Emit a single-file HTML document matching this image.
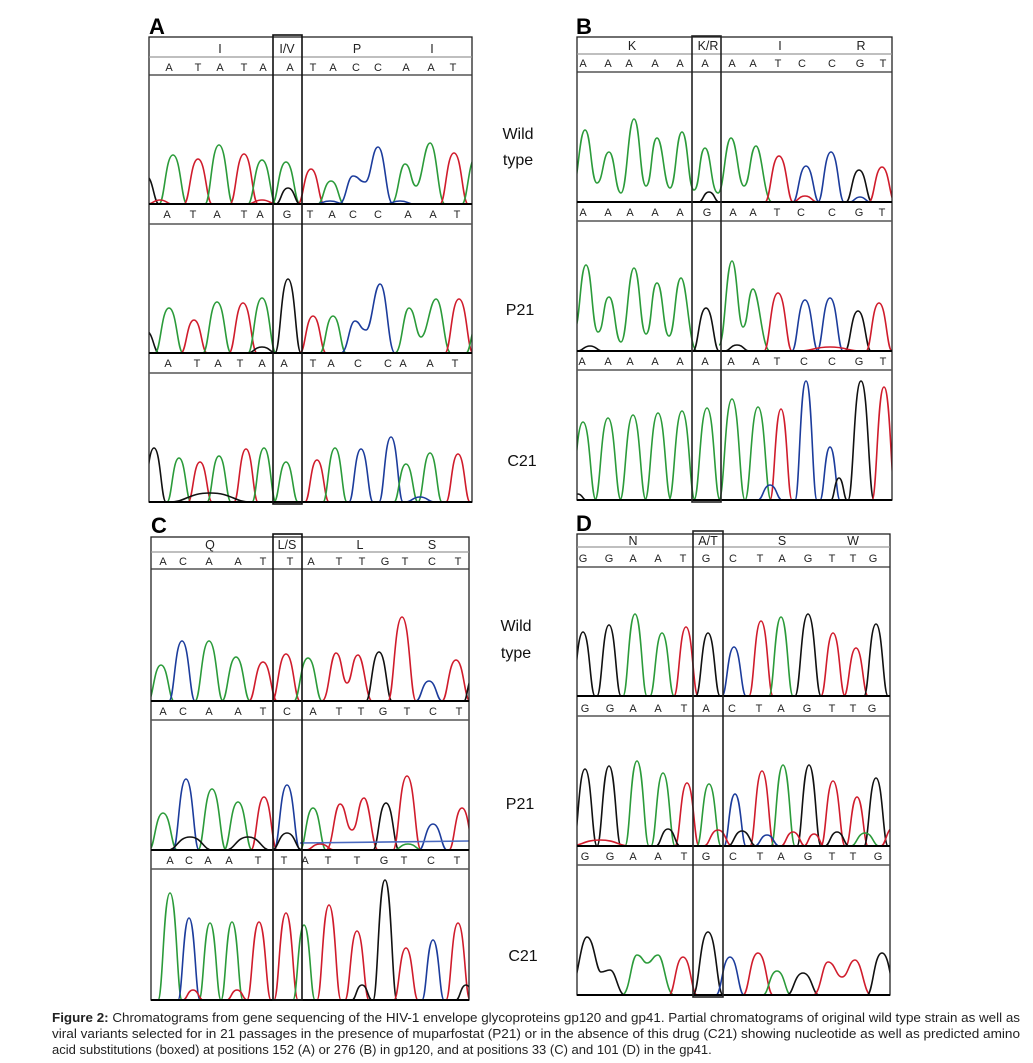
<!DOCTYPE html>
<html>
<head>
<meta charset="utf-8">
<style>
html,body{margin:0;padding:0;background:#fff;}
svg{display:block;}
.g{stroke:#2b9b3a;}
.r{stroke:#d01c2c;}
.b{stroke:#1c3c9c;}
.k{stroke:#111;}
.tr use,.tr path{stroke-width:1.6;fill:none;}
.nt{font-family:"Liberation Sans",Arial,sans-serif;font-size:11px;fill:#222;text-anchor:middle;}
.aa{font-family:"Liberation Sans",Arial,sans-serif;font-size:12.5px;fill:#222;text-anchor:middle;}
.lbl{font-family:"Liberation Sans",Arial,sans-serif;font-size:16px;fill:#111;text-anchor:middle;}
.pl{font-family:"Liberation Sans",Arial,sans-serif;font-size:22px;font-weight:bold;fill:#000;}
.cap{font-family:"Liberation Sans",Arial,sans-serif;font-size:13px;fill:#222;}
</style>
</head>
<body>
<svg width="1033" height="1063" viewBox="0 0 1033 1063" xmlns="http://www.w3.org/2000/svg">
<defs>
<path id="p" d="M-1,0 C-0.6,0 -0.55,-1 0,-1 C0.55,-1 0.6,0 1,0" fill="none" vector-effect="non-scaling-stroke"/>
<clipPath id="cA"><rect x="149" y="30" width="323" height="480"/></clipPath>
<clipPath id="cB"><rect x="577" y="30" width="315" height="480"/></clipPath>
<clipPath id="cC"><rect x="151" y="530" width="318" height="480"/></clipPath>
<clipPath id="cD"><rect x="577" y="525" width="313" height="480"/></clipPath>
</defs>
<rect width="1033" height="1063" fill="#fff"/>

<!-- Panel letters -->
<text class="pl" x="149" y="34">A</text>
<text class="pl" x="576" y="34">B</text>
<text class="pl" x="151" y="533">C</text>
<text class="pl" x="576" y="531">D</text>

<!-- Middle labels -->
<text class="lbl" x="518" y="139">Wild</text>
<text class="lbl" x="518" y="165">type</text>
<text class="lbl" x="520" y="315">P21</text>
<text class="lbl" x="522" y="466">C21</text>
<text class="lbl" x="516" y="631">Wild</text>
<text class="lbl" x="516" y="658">type</text>
<text class="lbl" x="520" y="809">P21</text>
<text class="lbl" x="523" y="961">C21</text>

<!-- ================= PANEL A ================= -->
<g class="tr" clip-path="url(#cA)">
<!-- WT b=204 -->
<use href="#p" class="k" transform="translate(146 204) scale(13 28)"/>
<use href="#p" class="g" transform="translate(173 204) scale(14 49)"/>
<use href="#p" class="r" transform="translate(198 204) scale(14 45)"/>
<use href="#p" class="g" transform="translate(219 204) scale(14 59)"/>
<use href="#p" class="r" transform="translate(244 204) scale(14 50)"/>
<use href="#p" class="g" transform="translate(262 204) scale(14 44)"/>
<use href="#p" class="g" transform="translate(286 204) scale(14 42)"/>
<use href="#p" class="k" transform="translate(288 204) scale(12 16)"/>
<use href="#p" class="r" transform="translate(311 204) scale(13 35)"/>
<use href="#p" class="g" transform="translate(331 204) scale(13 23)"/>
<path class="b" d="M339,204 C346,204 347,176 353,176 C359,176 359,182 365,182 C371,182 372,147 378,147 C385,147 386,204 393,204"/>
<path class="g" d="M391,204 C398,204 399,164 405,164 C411,164 411,186 416,186 C422,186 424,143 430,143 C437,143 438,204 445,204"/>
<use href="#p" class="r" transform="translate(454 204) scale(14 51)"/>
<use href="#p" class="g" transform="translate(476 204) scale(14 47)"/>
<use href="#p" class="r" transform="translate(160 204) scale(12 4)"/>
<use href="#p" class="r" transform="translate(262 204) scale(14 4)"/>
<use href="#p" class="b" transform="translate(330 204) scale(14 3)"/>
<use href="#p" class="b" transform="translate(400 204) scale(14 3)"/>
<!-- P21 b=353 -->
<use href="#p" class="k" transform="translate(146 353) scale(13 22)"/>
<use href="#p" class="g" transform="translate(169 353) scale(14 45)"/>
<use href="#p" class="r" transform="translate(194 353) scale(13 33)"/>
<use href="#p" class="g" transform="translate(217 353) scale(14 51)"/>
<use href="#p" class="r" transform="translate(243 353) scale(14 50)"/>
<use href="#p" class="g" transform="translate(262 353) scale(14 55)"/>
<use href="#p" class="k" transform="translate(288 353) scale(13 74)"/>
<use href="#p" class="r" transform="translate(313 353) scale(13 37)"/>
<use href="#p" class="g" transform="translate(333 353) scale(13 37)"/>
<path class="b" d="M341,353 C348,353 349,321 355,321 C360,321 360,330 366,330 C372,330 374,284 380,284 C387,284 388,353 395,353"/>
<path class="g" d="M395,353 C402,353 403,308 409,308 C415,308 416,337 421,337 C427,337 430,299 436,299 C443,299 444,353 451,353"/>
<use href="#p" class="r" transform="translate(459 353) scale(14 54)"/>
<use href="#p" class="g" transform="translate(478 353) scale(12 30)"/>
<use href="#p" class="k" transform="translate(262 353) scale(14 6)"/>
<!-- C21 b=502 -->
<use href="#p" class="k" transform="translate(154 502) scale(12 54)"/>
<use href="#p" class="g" transform="translate(179 502) scale(12 44)"/>
<use href="#p" class="r" transform="translate(200 502) scale(12 40)"/>
<use href="#p" class="g" transform="translate(219 502) scale(12 46)"/>
<use href="#p" class="r" transform="translate(246 502) scale(12 53)"/>
<use href="#p" class="g" transform="translate(264 502) scale(12 54)"/>
<use href="#p" class="g" transform="translate(286 502) scale(12 40)"/>
<use href="#p" class="r" transform="translate(317 502) scale(12 42)"/>
<use href="#p" class="g" transform="translate(335 502) scale(12 54)"/>
<use href="#p" class="b" transform="translate(361 502) scale(12 53)"/>
<use href="#p" class="b" transform="translate(391 502) scale(12 65)"/>
<use href="#p" class="g" transform="translate(406 502) scale(12 38)"/>
<use href="#p" class="g" transform="translate(430 502) scale(12 49)"/>
<use href="#p" class="r" transform="translate(458 502) scale(12 48)"/>
<use href="#p" class="k" transform="translate(210 502) scale(40 9)"/>
<use href="#p" class="b" transform="translate(420 502) scale(14 5)"/>
</g>
<g fill="none">
<rect x="149" y="37" width="323" height="465" stroke="#222" stroke-width="1.3"/>
<line x1="149" y1="57" x2="472" y2="57" stroke="#999" stroke-width="1.2"/>
<line x1="149" y1="75" x2="472" y2="75" stroke="#333" stroke-width="1.3"/>
<line x1="149" y1="204" x2="472" y2="204" stroke="#000" stroke-width="2"/>
<line x1="149" y1="224" x2="472" y2="224" stroke="#555" stroke-width="1.5"/>
<line x1="149" y1="353" x2="472" y2="353" stroke="#000" stroke-width="2"/>
<line x1="149" y1="373" x2="472" y2="373" stroke="#555" stroke-width="1.5"/>
<line x1="149" y1="502" x2="472" y2="502" stroke="#000" stroke-width="2"/>
<rect x="273" y="35" width="29" height="469" stroke="#111" stroke-width="1.6"/>
</g>
<text class="aa" x="220" y="53">I</text><text class="aa" x="287" y="53">I/V</text><text class="aa" x="357" y="53">P</text><text class="aa" x="432" y="53">I</text>
<g class="nt">
<text x="169" y="71">A</text><text x="198" y="71">T</text><text x="220" y="71">A</text><text x="244" y="71">T</text><text x="263" y="71">A</text><text x="290" y="71">A</text><text x="313" y="71">T</text><text x="333" y="71">A</text><text x="356" y="71">C</text><text x="378" y="71">C</text><text x="406" y="71">A</text><text x="431" y="71">A</text><text x="453" y="71">T</text>
<text x="167" y="218">A</text><text x="193" y="218">T</text><text x="217" y="218">A</text><text x="244" y="218">T</text><text x="260" y="218">A</text><text x="287" y="218">G</text><text x="310" y="218">T</text><text x="332" y="218">A</text><text x="353" y="218">C</text><text x="378" y="218">C</text><text x="408" y="218">A</text><text x="433" y="218">A</text><text x="457" y="218">T</text>
<text x="168" y="367">A</text><text x="197" y="367">T</text><text x="218" y="367">A</text><text x="240" y="367">T</text><text x="262" y="367">A</text><text x="284" y="367">A</text><text x="313" y="367">T</text><text x="331" y="367">A</text><text x="358" y="367">C</text><text x="388" y="367">C</text><text x="403" y="367">A</text><text x="430" y="367">A</text><text x="455" y="367">T</text>
</g>

<!-- ================= PANEL B ================= -->
<g class="tr" clip-path="url(#cB)">
<!-- WT b=202 -->
<path class="g" d="M572,190 C578,190 579,130 585,130 C591,130 591,183 597,183 C603,183 603,152 609,152 C615,152 615,193 621,193 C627,193 628,119 634,119 C640,119 640,186 646,186 C652,186 651,138 657,138 C663,138 664,188 670,188 C676,188 676,132 682,132 C688,132 688,190 694,190 C700,190 699,148 705,148 C711,148 711,193 718,193 C724,193 725,138 731,138 C737,138 738,186 744,186 C750,186 750,146 756,146 C762,146 764,202 772,202"/>
<use href="#p" class="k" transform="translate(709 202) scale(10 10)"/>
<use href="#p" class="r" transform="translate(779 202) scale(14 46)"/>
<use href="#p" class="b" transform="translate(806 202) scale(13 36)"/>
<use href="#p" class="b" transform="translate(831 202) scale(13 50)"/>
<use href="#p" class="k" transform="translate(859 202) scale(13 32)"/>
<use href="#p" class="r" transform="translate(882 202) scale(13 35)"/>
<use href="#p" class="r" transform="translate(805 202) scale(12 6)"/>
<use href="#p" class="b" transform="translate(860 202) scale(10 5)"/>
<!-- P21 b=351 -->
<path class="g" d="M574,330 C580,330 580,265 586,265 C592,265 592,332 598,332 C604,332 603,297 609,297 C615,297 615,342 621,342 C627,342 628,268 634,268 C640,268 640,334 646,334 C652,334 651,283 657,283 C663,283 663,336 669,336 C675,336 675,278 681,278 C687,278 689,351 697,351"/>
<path class="g" d="M719,345 C725,345 726,261 732,261 C737,261 738,327 743,327 C748,327 748,289 753,289 C759,289 762,351 770,351"/>
<use href="#p" class="k" transform="translate(706 351) scale(13 43)"/>
<use href="#p" class="r" transform="translate(778 351) scale(14 58)"/>
<use href="#p" class="b" transform="translate(805 351) scale(13 51)"/>
<use href="#p" class="b" transform="translate(830 351) scale(13 53)"/>
<use href="#p" class="k" transform="translate(858 351) scale(13 40)"/>
<use href="#p" class="r" transform="translate(879 351) scale(13 48)"/>
<use href="#p" class="k" transform="translate(590 351) scale(12 5)"/>
<use href="#p" class="k" transform="translate(737 351) scale(12 6)"/>
<use href="#p" class="r" transform="translate(830 351) scale(30 4)"/>
<!-- C21 b=500 -->
<use href="#p" class="g" transform="translate(583 500) scale(13 78)"/>
<use href="#p" class="g" transform="translate(608 500) scale(13 82)"/>
<use href="#p" class="g" transform="translate(633 500) scale(13 85)"/>
<use href="#p" class="g" transform="translate(658 500) scale(13 87)"/>
<use href="#p" class="g" transform="translate(682 500) scale(13 89)"/>
<use href="#p" class="g" transform="translate(707 500) scale(13 92)"/>
<use href="#p" class="g" transform="translate(732 500) scale(13 101)"/>
<use href="#p" class="g" transform="translate(758 500) scale(13 93)"/>
<use href="#p" class="r" transform="translate(781 500) scale(11 91)"/>
<use href="#p" class="b" transform="translate(806 500) scale(11 119)"/>
<use href="#p" class="b" transform="translate(830 500) scale(10 53)"/>
<use href="#p" class="k" transform="translate(861 500) scale(13 119)"/>
<use href="#p" class="r" transform="translate(884 500) scale(12 113)"/>
<use href="#p" class="k" transform="translate(839 500) scale(8 22)"/>
<use href="#p" class="b" transform="translate(770 500) scale(12 15)"/>
<use href="#p" class="k" transform="translate(578 500) scale(8 6)"/>
</g>
<g fill="none">
<rect x="577" y="37" width="315" height="463" stroke="#222" stroke-width="1.3"/>
<line x1="577" y1="54" x2="892" y2="54" stroke="#999" stroke-width="1.2"/>
<line x1="577" y1="72" x2="892" y2="72" stroke="#333" stroke-width="1.3"/>
<line x1="577" y1="202" x2="892" y2="202" stroke="#000" stroke-width="2"/>
<line x1="577" y1="221" x2="892" y2="221" stroke="#555" stroke-width="1.5"/>
<line x1="577" y1="351" x2="892" y2="351" stroke="#000" stroke-width="2"/>
<line x1="577" y1="370" x2="892" y2="370" stroke="#555" stroke-width="1.5"/>
<line x1="577" y1="500" x2="892" y2="500" stroke="#000" stroke-width="2"/>
<rect x="692" y="36" width="29" height="466" stroke="#222" stroke-width="1.6"/>
</g>
<text class="aa" x="632" y="50">K</text><text class="aa" x="708" y="50">K/R</text><text class="aa" x="780" y="50">I</text><text class="aa" x="861" y="50">R</text>
<g class="nt">
<text x="583" y="67">A</text><text x="608" y="67">A</text><text x="629" y="67">A</text><text x="655" y="67">A</text><text x="680" y="67">A</text><text x="705" y="67">A</text><text x="732" y="67">A</text><text x="753" y="67">A</text><text x="778" y="67">T</text><text x="802" y="67">C</text><text x="832" y="67">C</text><text x="860" y="67">G</text><text x="883" y="67">T</text>
<text x="583" y="216">A</text><text x="608" y="216">A</text><text x="630" y="216">A</text><text x="655" y="216">A</text><text x="680" y="216">A</text><text x="707" y="216">G</text><text x="733" y="216">A</text><text x="753" y="216">A</text><text x="777" y="216">T</text><text x="801" y="216">C</text><text x="832" y="216">C</text><text x="859" y="216">G</text><text x="882" y="216">T</text>
<text x="582" y="365">A</text><text x="608" y="365">A</text><text x="630" y="365">A</text><text x="655" y="365">A</text><text x="680" y="365">A</text><text x="705" y="365">A</text><text x="731" y="365">A</text><text x="756" y="365">A</text><text x="777" y="365">T</text><text x="804" y="365">C</text><text x="832" y="365">C</text><text x="859" y="365">G</text><text x="883" y="365">T</text>
</g>

<!-- ================= PANEL C ================= -->
<g class="tr" clip-path="url(#cC)">
<!-- WT b=701 -->
<use href="#p" class="g" transform="translate(161 701) scale(13 36)"/>
<use href="#p" class="b" transform="translate(182 701) scale(13 60)"/>
<use href="#p" class="g" transform="translate(209 701) scale(14 60)"/>
<use href="#p" class="g" transform="translate(236 701) scale(14 44)"/>
<use href="#p" class="r" transform="translate(263 701) scale(14 39)"/>
<use href="#p" class="r" transform="translate(286 701) scale(14 47)"/>
<use href="#p" class="g" transform="translate(308 701) scale(14 43)"/>
<path class="r" d="M322,701 C329,701 330,653 336,653 C342,653 342,683 347,683 C352,683 352,655 358,655 C364,655 366,701 372,701"/>
<use href="#p" class="k" transform="translate(379 701) scale(13 49)"/>
<use href="#p" class="r" transform="translate(402 701) scale(14 84)"/>
<use href="#p" class="b" transform="translate(429 701) scale(13 20)"/>
<use href="#p" class="r" transform="translate(456 701) scale(14 41)"/>
<use href="#p" class="k" transform="translate(472 701) scale(8 22)"/>
<!-- P21 b=850 -->
<use href="#p" class="g" transform="translate(163 850) scale(14 37)"/>
<use href="#p" class="b" transform="translate(186 850) scale(13 71)"/>
<use href="#p" class="g" transform="translate(212 850) scale(14 61)"/>
<use href="#p" class="g" transform="translate(238 850) scale(14 48)"/>
<use href="#p" class="r" transform="translate(264 850) scale(13 53)"/>
<use href="#p" class="b" transform="translate(287 850) scale(13 65)"/>
<use href="#p" class="g" transform="translate(313 850) scale(13 42)"/>
<path class="r" d="M326,850 C333,850 334,804 340,804 C346,804 346,830 352,830 C358,830 358,798 364,798 C370,798 372,850 378,850"/>
<use href="#p" class="k" transform="translate(386 850) scale(13 47)"/>
<use href="#p" class="r" transform="translate(407 850) scale(14 74)"/>
<use href="#p" class="b" transform="translate(433 850) scale(14 26)"/>
<use href="#p" class="r" transform="translate(462 850) scale(13 42)"/>
<use href="#p" class="k" transform="translate(190 850) scale(22 13)"/>
<use href="#p" class="k" transform="translate(248 850) scale(22 13)"/>
<use href="#p" class="k" transform="translate(287 850) scale(15 17)"/>
<use href="#p" class="r" transform="translate(320 850) scale(14 6)"/>
<use href="#p" class="g" transform="translate(408 850) scale(14 6)"/>
<path d="M300 843 L470 841" stroke="#4a6ac0" stroke-width="1" fill="none"/>
<!-- C21 b=1000 -->
<use href="#p" class="g" transform="translate(170 1000) scale(12 107)"/>
<use href="#p" class="b" transform="translate(189 1000) scale(11 82)"/>
<use href="#p" class="g" transform="translate(210 1000) scale(11 77)"/>
<use href="#p" class="g" transform="translate(232 1000) scale(11 78)"/>
<use href="#p" class="r" transform="translate(259 1000) scale(12 78)"/>
<use href="#p" class="r" transform="translate(286 1000) scale(12 87)"/>
<use href="#p" class="g" transform="translate(304 1000) scale(11 75)"/>
<use href="#p" class="r" transform="translate(329 1000) scale(12 95)"/>
<use href="#p" class="r" transform="translate(357 1000) scale(12 69)"/>
<use href="#p" class="k" transform="translate(385 1000) scale(12 120)"/>
<use href="#p" class="r" transform="translate(406 1000) scale(12 52)"/>
<use href="#p" class="b" transform="translate(433 1000) scale(11 60)"/>
<use href="#p" class="r" transform="translate(458 1000) scale(12 77)"/>
<use href="#p" class="k" transform="translate(362 1000) scale(10 15)"/>
<use href="#p" class="r" transform="translate(193 1000) scale(10 10)"/>
<use href="#p" class="r" transform="translate(237 1000) scale(10 10)"/>
<use href="#p" class="k" transform="translate(466 1000) scale(10 15)"/>
</g>
<g fill="none">
<rect x="151" y="537" width="318" height="463" stroke="#222" stroke-width="1.3"/>
<line x1="151" y1="552" x2="469" y2="552" stroke="#999" stroke-width="1.2"/>
<line x1="151" y1="569" x2="469" y2="569" stroke="#333" stroke-width="1.3"/>
<line x1="151" y1="701" x2="469" y2="701" stroke="#000" stroke-width="2"/>
<line x1="151" y1="720" x2="469" y2="720" stroke="#555" stroke-width="1.5"/>
<line x1="151" y1="850" x2="469" y2="850" stroke="#000" stroke-width="2"/>
<line x1="151" y1="869" x2="469" y2="869" stroke="#555" stroke-width="1.5"/>
<line x1="151" y1="1000" x2="469" y2="1000" stroke="#000" stroke-width="2"/>
<rect x="273" y="534" width="29" height="466" stroke="#111" stroke-width="1.6"/>
</g>
<text class="aa" x="210" y="549">Q</text><text class="aa" x="287" y="549">L/S</text><text class="aa" x="360" y="549">L</text><text class="aa" x="432" y="549">S</text>
<g class="nt">
<text x="163" y="565">A</text><text x="183" y="565">C</text><text x="209" y="565">A</text><text x="238" y="565">A</text><text x="263" y="565">T</text><text x="290" y="565">T</text><text x="311" y="565">A</text><text x="339" y="565">T</text><text x="362" y="565">T</text><text x="385" y="565">G</text><text x="405" y="565">T</text><text x="432" y="565">C</text><text x="458" y="565">T</text>
<text x="163" y="715">A</text><text x="183" y="715">C</text><text x="209" y="715">A</text><text x="238" y="715">A</text><text x="263" y="715">T</text><text x="287" y="715">C</text><text x="313" y="715">A</text><text x="339" y="715">T</text><text x="361" y="715">T</text><text x="383" y="715">G</text><text x="407" y="715">T</text><text x="433" y="715">C</text><text x="459" y="715">T</text>
<text x="170" y="864">A</text><text x="189" y="864">C</text><text x="208" y="864">A</text><text x="229" y="864">A</text><text x="258" y="864">T</text><text x="284" y="864">T</text><text x="305" y="864">A</text><text x="328" y="864">T</text><text x="357" y="864">T</text><text x="384" y="864">G</text><text x="404" y="864">T</text><text x="431" y="864">C</text><text x="457" y="864">T</text>
</g>

<!-- ================= PANEL D ================= -->
<g class="tr" clip-path="url(#cD)">
<!-- WT b=696 -->
<use href="#p" class="k" transform="translate(583 696) scale(12 64)"/>
<use href="#p" class="k" transform="translate(609 696) scale(12 71)"/>
<use href="#p" class="g" transform="translate(635 696) scale(12 82)"/>
<use href="#p" class="g" transform="translate(662 696) scale(12 63)"/>
<use href="#p" class="r" transform="translate(686 696) scale(12 69)"/>
<use href="#p" class="k" transform="translate(708 696) scale(12 63)"/>
<use href="#p" class="b" transform="translate(734 696) scale(12 49)"/>
<use href="#p" class="r" transform="translate(761 696) scale(12 75)"/>
<use href="#p" class="g" transform="translate(781 696) scale(12 79)"/>
<use href="#p" class="k" transform="translate(808 696) scale(13 82)"/>
<use href="#p" class="r" transform="translate(833 696) scale(12 63)"/>
<use href="#p" class="r" transform="translate(856 696) scale(12 48)"/>
<use href="#p" class="k" transform="translate(876 696) scale(12 72)"/>
<!-- P21 b=846 -->
<use href="#p" class="k" transform="translate(585 846) scale(12 77)"/>
<use href="#p" class="k" transform="translate(609 846) scale(12 80)"/>
<use href="#p" class="g" transform="translate(637 846) scale(12 85)"/>
<use href="#p" class="g" transform="translate(663 846) scale(12 73)"/>
<use href="#p" class="r" transform="translate(687 846) scale(12 63)"/>
<use href="#p" class="g" transform="translate(709 846) scale(12 62)"/>
<use href="#p" class="b" transform="translate(735 846) scale(11 52)"/>
<use href="#p" class="r" transform="translate(762 846) scale(12 75)"/>
<use href="#p" class="g" transform="translate(783 846) scale(12 81)"/>
<use href="#p" class="k" transform="translate(809 846) scale(12 81)"/>
<use href="#p" class="r" transform="translate(833 846) scale(12 65)"/>
<use href="#p" class="r" transform="translate(857 846) scale(11 49)"/>
<use href="#p" class="k" transform="translate(876 846) scale(12 68)"/>
<use href="#p" class="k" transform="translate(668 846) scale(12 17)"/>
<use href="#p" class="r" transform="translate(718 846) scale(14 16)"/>
<use href="#p" class="k" transform="translate(742 846) scale(14 15)"/>
<use href="#p" class="b" transform="translate(767 846) scale(12 11)"/>
<use href="#p" class="r" transform="translate(793 846) scale(12 14)"/>
<use href="#p" class="r" transform="translate(814 846) scale(10 12)"/>
<use href="#p" class="k" transform="translate(837 846) scale(12 14)"/>
<use href="#p" class="g" transform="translate(865 846) scale(14 13)"/>
<use href="#p" class="r" transform="translate(893 846) scale(12 18)"/>
<use href="#p" class="r" transform="translate(600 846) scale(30 6)"/>
<!-- C21 b=995 -->
<path class="k" d="M568,995 C577,995 580,937 587,937 C594,937 596,972 601,972 C605,972 606,970 610,970 C616,970 618,995 625,995"/>
<path class="g" d="M622,995 C630,995 631,955 637,955 C642,955 643,963 647,963 C652,963 653,955 658,955 C664,955 666,995 674,995"/>
<use href="#p" class="r" transform="translate(683 995) scale(14 38)"/>
<use href="#p" class="k" transform="translate(708 995) scale(15 63)"/>
<use href="#p" class="b" transform="translate(730 995) scale(14 38)"/>
<use href="#p" class="r" transform="translate(758 995) scale(15 42)"/>
<use href="#p" class="g" transform="translate(777 995) scale(14 24)"/>
<use href="#p" class="k" transform="translate(803 995) scale(16 22)"/>
<path class="r" d="M813,995 C821,995 822,962 828,962 C835,962 836,977 842,977 C848,977 849,960 855,960 C862,960 864,995 871,995"/>
<use href="#p" class="k" transform="translate(882 995) scale(15 42)"/>
</g>
<g fill="none">
<rect x="577" y="534" width="313" height="461" stroke="#222" stroke-width="1.3"/>
<line x1="577" y1="547" x2="890" y2="547" stroke="#999" stroke-width="1.2"/>
<line x1="577" y1="567" x2="890" y2="567" stroke="#333" stroke-width="1.3"/>
<line x1="577" y1="696" x2="890" y2="696" stroke="#000" stroke-width="2"/>
<line x1="577" y1="716" x2="890" y2="716" stroke="#555" stroke-width="1.5"/>
<line x1="577" y1="846" x2="890" y2="846" stroke="#000" stroke-width="2"/>
<line x1="577" y1="865" x2="890" y2="865" stroke="#555" stroke-width="1.5"/>
<line x1="577" y1="995" x2="890" y2="995" stroke="#000" stroke-width="2"/>
<rect x="693" y="531" width="30" height="466" stroke="#222" stroke-width="1.6"/>
</g>
<text class="aa" x="633" y="545">N</text><text class="aa" x="708" y="545">A/T</text><text class="aa" x="782" y="545">S</text><text class="aa" x="853" y="545">W</text>
<g class="nt">
<text x="583" y="562">G</text><text x="609" y="562">G</text><text x="633" y="562">A</text><text x="658" y="562">A</text><text x="683" y="562">T</text><text x="706" y="562">G</text><text x="733" y="562">C</text><text x="760" y="562">T</text><text x="782" y="562">A</text><text x="808" y="562">G</text><text x="832" y="562">T</text><text x="853" y="562">T</text><text x="873" y="562">G</text>
<text x="585" y="712">G</text><text x="610" y="712">G</text><text x="633" y="712">A</text><text x="658" y="712">A</text><text x="684" y="712">T</text><text x="706" y="712">A</text><text x="732" y="712">C</text><text x="759" y="712">T</text><text x="781" y="712">A</text><text x="807" y="712">G</text><text x="832" y="712">T</text><text x="853" y="712">T</text><text x="872" y="712">G</text>
<text x="585" y="860">G</text><text x="610" y="860">G</text><text x="633" y="860">A</text><text x="658" y="860">A</text><text x="684" y="860">T</text><text x="706" y="860">G</text><text x="733" y="860">C</text><text x="760" y="860">T</text><text x="781" y="860">A</text><text x="808" y="860">G</text><text x="832" y="860">T</text><text x="853" y="860">T</text><text x="878" y="860">G</text>
</g>

<!-- Caption -->
<text class="cap" x="52" y="1022" textLength="968" lengthAdjust="spacingAndGlyphs"><tspan font-weight="bold">Figure 2:</tspan> Chromatograms from gene sequencing of the HIV-1 envelope glycoproteins gp120 and gp41. Partial chromatograms of original wild type strain as well as</text>
<text class="cap" x="52" y="1038" textLength="968" lengthAdjust="spacingAndGlyphs">viral variants selected for in 21 passages in the presence of muparfostat (P21) or in the absence of this drug (C21) showing nucleotide as well as predicted amino</text>
<text class="cap" x="52" y="1054">acid substitutions (boxed) at positions 152 (A) or 276 (B) in gp120, and at positions 33 (C) and 101 (D) in the gp41.</text>
</svg>
</body>
</html>
